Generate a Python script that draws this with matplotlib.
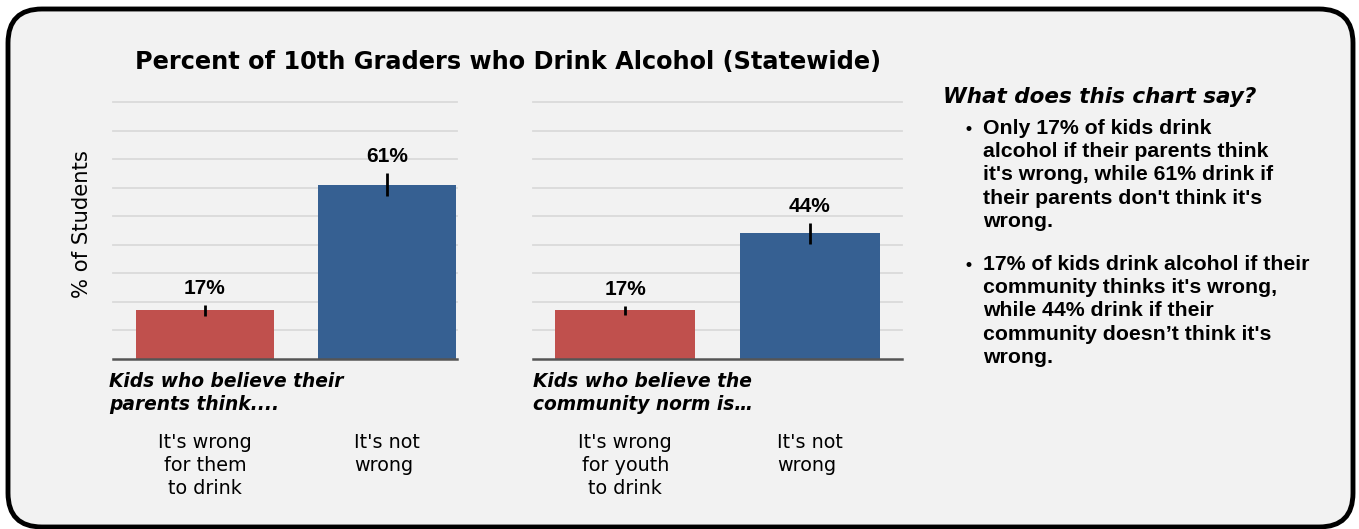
import matplotlib
matplotlib.use("Agg")
import matplotlib.pyplot as plt
from matplotlib.patches import FancyBboxPatch

W, H = 1359, 529

# data
title = "Percent of 10th Graders who Drink Alcohol (Statewide)"
group_labels = ["Kids who believe their\nparents think....",
                "Kids who believe the\ncommunity norm is\u2026"]
tick_labels = [["It's wrong\nfor them\nto drink", "It's not\nwrong"],
               ["It's wrong\nfor youth\nto drink", "It's not\nwrong"]]
parents_vals = [17, 61]
parents_err = [1.8, 4.0]
community_vals = [17, 44]
community_err = [1.6, 3.7]
panel_vals = [parents_vals, community_vals]
panel_errs = [parents_err, community_err]
bar_colors = ["#c0504d", "#366092"]

side_head = "What does this chart say?"
bullets = ["Only 17% of kids drink\nalcohol if their parents think\nit's wrong, while 61% drink if\ntheir parents don't think it's\nwrong.",
           "17% of kids drink alcohol if their\ncommunity thinks it's wrong,\nwhile 44% drink if their\ncommunity doesn\u2019t think it's\nwrong."]

BG = "#f2f2f2"


def fx(x):
    return x / W


def fy(y):
    return 1 - y / H


fig = plt.figure(figsize=(W / 100, H / 100), dpi=100)
fig.patch.set_facecolor("white")

# background axes in pixel units, holds the rounded frame
bg = fig.add_axes([0, 0, 1, 1], zorder=-1)
bg.set_xlim(0, W)
bg.set_ylim(H, 0)
bg.axis("off")
bg.add_patch(FancyBboxPatch((8, 9), 1345, 518,
                            boxstyle="round,pad=0,rounding_size=34",
                            facecolor=BG, edgecolor="black", linewidth=3.5))

# panel placement in pixels: left, right, xlim, group label x
panels = [(113, 457, (-0.505, 1.385), 109), (533, 902, (-0.5, 1.5), 533)]
top_px, base_px = 102, 359

for i, (l, r, xl, gx) in enumerate(panels):
    ax = fig.add_axes([fx(l), fy(base_px), (r - l) / W, (base_px - top_px) / H])
    ax.set_facecolor("none")
    ax.bar([0, 1], panel_vals[i], width=0.76, color=bar_colors, zorder=3)
    ax.errorbar([0, 1], panel_vals[i], yerr=panel_errs[i], fmt="none",
                ecolor="black", elinewidth=2, capsize=0, zorder=4)
    for x, v, e in zip([0, 1], panel_vals[i], panel_errs[i]):
        ax.annotate(f"{v}%", (x, v + e), xytext=(0, 5), textcoords="offset points",
                    ha="center", va="bottom", fontsize=15,
                    family="Liberation Sans", weight="bold")
    ax.set_xlim(*xl)
    ax.set_ylim(0, 90)
    ax.set_yticks(range(10, 91, 10))
    ax.yaxis.grid(True, color="#dadada", linewidth=1.3, zorder=0, clip_on=False)
    ax.set_axisbelow(True)
    ax.tick_params(axis="y", left=False, labelleft=False)
    for s in ["top", "right", "left"]:
        ax.spines[s].set_visible(False)
    ax.spines["bottom"].set_color("#555555")
    ax.spines["bottom"].set_linewidth(1.8)
    ax.spines["bottom"].set_zorder(5)
    ax.set_xticks([0, 1])
    ax.set_xticklabels(tick_labels[i], fontsize=13.8, family="DejaVu Sans",
                       linespacing=1.25)
    ax.tick_params(axis="x", bottom=False, pad=50)
    labs = ax.get_xticklabels()
    labs[0].set_multialignment("center")
    labs[1].set_multialignment("left")
    fig.text(fx(gx), fy(372), group_labels[i], ha="left", va="top",
             fontsize=13.4, weight="bold", style="italic", linespacing=1.3)

fig.text(fx(82), fy(224), "% of Students", rotation=90, ha="center", va="center",
         fontsize=15.2)
fig.text(fx(508), fy(62), title, ha="center", va="center", fontsize=17.3,
         weight="bold")

fig.text(fx(943), fy(97), side_head, ha="left", va="center", fontsize=15.5,
         weight="bold", style="italic")
for y0, txt in zip([119, 255], bullets):
    fig.text(fx(966), fy(y0 + 3), "\u2022", ha="left", va="top", fontsize=12.5,
             family="Liberation Sans", weight="bold")
    fig.text(fx(983), fy(y0), txt, ha="left", va="top", fontsize=15.3,
             family="Liberation Sans", weight="bold", linespacing=1.28)

fig.savefig("out.png", dpi=100, facecolor="white")
